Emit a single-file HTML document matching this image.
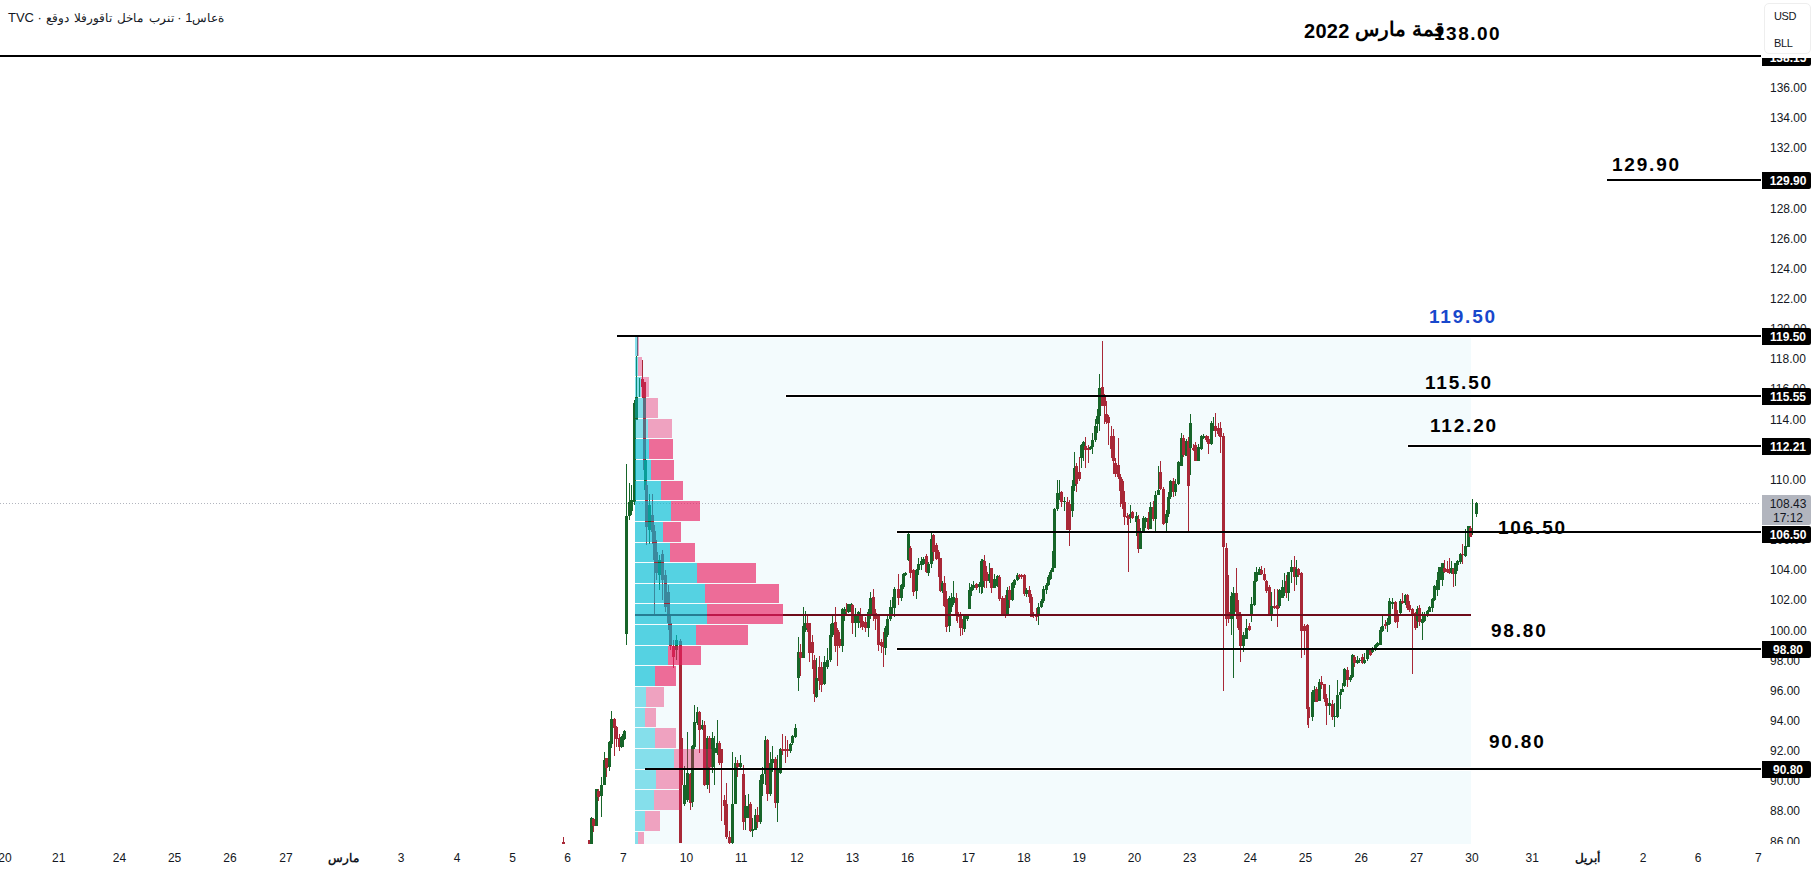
<!DOCTYPE html><html><head><meta charset="utf-8"><style>
html,body{margin:0;padding:0;background:#fff;width:1815px;height:872px;overflow:hidden;position:relative;font-family:"Liberation Sans",sans-serif;}
.t{position:absolute;white-space:nowrap;line-height:1;}
.ax{position:absolute;font-size:12px;color:#131722;white-space:nowrap;line-height:1;}
.pl{position:absolute;left:1762px;width:49px;height:17px;background:#000;border-radius:0 2px 2px 0;color:#fff;font-weight:bold;font-size:12px;line-height:18px;text-align:center;padding-left:3px;box-sizing:border-box;}
.big{position:absolute;font-weight:bold;font-size:19px;letter-spacing:1.8px;white-space:nowrap;line-height:1;color:#000;}
</style></head><body><svg width="1815" height="872" style="position:absolute;left:0;top:0" shape-rendering="crispEdges"><rect x="635" y="337" width="836" height="507" fill="#f3fbfd"/><line x1="0" y1="503.5" x2="1760" y2="503.5" stroke="#b2b5be" stroke-width="1" stroke-dasharray="1 2"/><line x1="-1" y1="55.5" x2="1762" y2="55.5" stroke="#fff" stroke-width="4"/><line x1="1606" y1="180" x2="1762" y2="180" stroke="#fff" stroke-width="4"/><line x1="616" y1="336" x2="1762" y2="336" stroke="#fff" stroke-width="4"/><line x1="785" y1="396" x2="1762" y2="396" stroke="#fff" stroke-width="4"/><line x1="1407" y1="446" x2="1762" y2="446" stroke="#fff" stroke-width="4"/><line x1="896" y1="532" x2="1762" y2="532" stroke="#fff" stroke-width="4"/><line x1="896" y1="649" x2="1762" y2="649" stroke="#fff" stroke-width="4"/><line x1="644" y1="769" x2="1762" y2="769" stroke="#fff" stroke-width="4"/><rect x="563" y="837" width="1" height="7" fill="#a82837"/><rect x="562" y="842" width="3" height="2" fill="#a82837"/><rect x="589" y="840" width="1" height="4" fill="#a82837"/><rect x="588" y="840" width="3" height="4" fill="#a82837"/><rect x="591" y="817" width="1" height="27" fill="#176529"/><rect x="590" y="818" width="3" height="26" fill="#176529"/><rect x="593" y="818" width="1" height="14" fill="#a82837"/><rect x="592" y="819" width="3" height="7" fill="#a82837"/><rect x="596" y="789" width="1" height="37" fill="#176529"/><rect x="595" y="789" width="3" height="37" fill="#176529"/><rect x="598" y="789" width="1" height="12" fill="#a82837"/><rect x="597" y="791" width="3" height="6" fill="#a82837"/><rect x="601" y="777" width="1" height="40" fill="#176529"/><rect x="600" y="785" width="3" height="11" fill="#176529"/><rect x="604" y="752" width="1" height="33" fill="#176529"/><rect x="603" y="760" width="3" height="25" fill="#176529"/><rect x="606" y="758" width="1" height="19" fill="#a82837"/><rect x="605" y="758" width="3" height="10" fill="#a82837"/><rect x="609" y="741" width="1" height="30" fill="#176529"/><rect x="608" y="742" width="3" height="25" fill="#176529"/><rect x="611" y="711" width="1" height="37" fill="#176529"/><rect x="610" y="719" width="3" height="25" fill="#176529"/><rect x="614" y="718" width="1" height="38" fill="#a82837"/><rect x="613" y="719" width="3" height="9" fill="#a82837"/><rect x="616" y="726" width="1" height="21" fill="#a82837"/><rect x="615" y="727" width="3" height="12" fill="#a82837"/><rect x="619" y="734" width="1" height="17" fill="#a82837"/><rect x="618" y="738" width="3" height="9" fill="#a82837"/><rect x="621" y="736" width="1" height="12" fill="#176529"/><rect x="620" y="737" width="3" height="10" fill="#176529"/><rect x="623" y="734" width="1" height="13" fill="#176529"/><rect x="622" y="734" width="3" height="6" fill="#176529"/><rect x="624" y="730" width="1" height="10" fill="#176529"/><rect x="623" y="731" width="3" height="8" fill="#176529"/><rect x="626" y="464" width="1" height="181" fill="#176529"/><rect x="625" y="516" width="3" height="118" fill="#176529"/><rect x="629" y="483" width="1" height="37" fill="#176529"/><rect x="628" y="502" width="3" height="14" fill="#176529"/><rect x="631" y="485" width="1" height="30" fill="#176529"/><rect x="630" y="500" width="3" height="11" fill="#176529"/><rect x="634" y="400" width="1" height="105" fill="#176529"/><rect x="633" y="403" width="3" height="99" fill="#176529"/><rect x="636" y="356" width="1" height="64" fill="#176529"/><rect x="635" y="397" width="3" height="23" fill="#176529"/><rect x="637" y="337" width="1" height="19" fill="#a82837"/><rect x="637" y="337" width="1" height="19" fill="#a82837"/><rect x="639" y="378" width="1" height="19" fill="#176529"/><rect x="639" y="378" width="1" height="19" fill="#176529"/><rect x="642" y="360" width="1" height="38" fill="#a82837"/><rect x="641" y="379" width="3" height="8" fill="#a82837"/><rect x="644" y="382" width="1" height="98" fill="#a82837"/><rect x="643" y="382" width="3" height="88" fill="#a82837"/><rect x="645" y="450" width="1" height="50" fill="#176529"/><rect x="644" y="460" width="3" height="30" fill="#176529"/><rect x="646" y="480" width="1" height="65" fill="#a82837"/><rect x="645" y="485" width="3" height="42" fill="#a82837"/><rect x="649" y="494" width="1" height="50" fill="#176529"/><rect x="648" y="505" width="3" height="25" fill="#176529"/><rect x="652" y="494" width="1" height="50" fill="#a82837"/><rect x="651" y="515" width="3" height="17" fill="#a82837"/><rect x="654" y="525" width="1" height="89" fill="#a82837"/><rect x="653" y="531" width="3" height="29" fill="#a82837"/><rect x="656" y="540" width="1" height="40" fill="#a82837"/><rect x="655" y="552" width="3" height="21" fill="#a82837"/><rect x="659" y="555" width="1" height="35" fill="#176529"/><rect x="658" y="560" width="3" height="15" fill="#176529"/><rect x="662" y="550" width="1" height="50" fill="#a82837"/><rect x="661" y="554" width="3" height="26" fill="#a82837"/><rect x="665" y="570" width="1" height="42" fill="#a82837"/><rect x="664" y="575" width="3" height="32" fill="#a82837"/><rect x="668" y="585" width="1" height="45" fill="#a82837"/><rect x="667" y="592" width="3" height="31" fill="#a82837"/><rect x="670" y="615" width="1" height="35" fill="#a82837"/><rect x="669" y="623" width="3" height="23" fill="#a82837"/><rect x="673" y="640" width="1" height="28" fill="#a82837"/><rect x="672" y="646" width="3" height="11" fill="#a82837"/><rect x="676" y="635" width="1" height="25" fill="#176529"/><rect x="675" y="640" width="3" height="10" fill="#176529"/><rect x="680" y="639" width="1" height="204" fill="#a82837"/><rect x="679" y="641" width="3" height="202" fill="#a82837"/><rect x="681" y="737" width="1" height="98" fill="#a82837"/><rect x="680" y="738" width="3" height="47" fill="#a82837"/><rect x="684" y="766" width="1" height="40" fill="#176529"/><rect x="683" y="785" width="3" height="19" fill="#176529"/><rect x="687" y="732" width="1" height="70" fill="#176529"/><rect x="686" y="773" width="3" height="27" fill="#176529"/><rect x="690" y="773" width="1" height="37" fill="#a82837"/><rect x="689" y="774" width="3" height="29" fill="#a82837"/><rect x="692" y="745" width="1" height="62" fill="#176529"/><rect x="691" y="746" width="3" height="56" fill="#176529"/><rect x="694" y="705" width="1" height="44" fill="#176529"/><rect x="693" y="722" width="3" height="25" fill="#176529"/><rect x="697" y="707" width="1" height="18" fill="#176529"/><rect x="696" y="712" width="3" height="11" fill="#176529"/><rect x="699" y="711" width="1" height="42" fill="#a82837"/><rect x="698" y="712" width="3" height="18" fill="#a82837"/><rect x="702" y="720" width="1" height="10" fill="#176529"/><rect x="701" y="725" width="3" height="4" fill="#176529"/><rect x="704" y="721" width="1" height="65" fill="#a82837"/><rect x="703" y="725" width="3" height="60" fill="#a82837"/><rect x="707" y="736" width="1" height="53" fill="#176529"/><rect x="706" y="738" width="3" height="47" fill="#176529"/><rect x="709" y="736" width="1" height="57" fill="#a82837"/><rect x="708" y="738" width="3" height="29" fill="#a82837"/><rect x="712" y="732" width="1" height="41" fill="#176529"/><rect x="711" y="738" width="3" height="29" fill="#176529"/><rect x="714" y="736" width="1" height="49" fill="#176529"/><rect x="713" y="748" width="3" height="5" fill="#176529"/><rect x="717" y="720" width="1" height="35" fill="#176529"/><rect x="716" y="743" width="3" height="10" fill="#176529"/><rect x="719" y="741" width="1" height="24" fill="#a82837"/><rect x="718" y="743" width="3" height="20" fill="#a82837"/><rect x="721" y="749" width="1" height="72" fill="#a82837"/><rect x="720" y="749" width="3" height="14" fill="#a82837"/><rect x="724" y="795" width="1" height="30" fill="#a82837"/><rect x="723" y="800" width="3" height="6" fill="#a82837"/><rect x="726" y="783" width="1" height="56" fill="#a82837"/><rect x="725" y="804" width="3" height="33" fill="#a82837"/><rect x="729" y="831" width="1" height="13" fill="#a82837"/><rect x="728" y="837" width="3" height="6" fill="#a82837"/><rect x="732" y="752" width="1" height="92" fill="#176529"/><rect x="731" y="804" width="3" height="39" fill="#176529"/><rect x="735" y="757" width="1" height="47" fill="#176529"/><rect x="734" y="763" width="3" height="41" fill="#176529"/><rect x="737" y="760" width="1" height="17" fill="#a82837"/><rect x="736" y="763" width="3" height="4" fill="#a82837"/><rect x="740" y="755" width="1" height="14" fill="#176529"/><rect x="739" y="763" width="3" height="4" fill="#176529"/><rect x="743" y="765" width="1" height="65" fill="#a82837"/><rect x="742" y="774" width="3" height="48" fill="#a82837"/><rect x="745" y="795" width="1" height="35" fill="#176529"/><rect x="744" y="806" width="3" height="12" fill="#176529"/><rect x="748" y="794" width="1" height="24" fill="#176529"/><rect x="747" y="806" width="3" height="12" fill="#176529"/><rect x="750" y="802" width="1" height="30" fill="#a82837"/><rect x="749" y="804" width="3" height="27" fill="#a82837"/><rect x="752" y="818" width="1" height="19" fill="#176529"/><rect x="751" y="829" width="3" height="2" fill="#176529"/><rect x="755" y="809" width="1" height="21" fill="#176529"/><rect x="754" y="815" width="3" height="15" fill="#176529"/><rect x="757" y="807" width="1" height="21" fill="#a82837"/><rect x="756" y="815" width="3" height="7" fill="#a82837"/><rect x="760" y="775" width="1" height="49" fill="#176529"/><rect x="759" y="780" width="3" height="42" fill="#176529"/><rect x="762" y="767" width="1" height="29" fill="#176529"/><rect x="761" y="774" width="3" height="10" fill="#176529"/><rect x="765" y="736" width="1" height="49" fill="#176529"/><rect x="764" y="740" width="3" height="34" fill="#176529"/><rect x="767" y="739" width="1" height="62" fill="#a82837"/><rect x="766" y="740" width="3" height="54" fill="#a82837"/><rect x="770" y="752" width="1" height="44" fill="#176529"/><rect x="769" y="763" width="3" height="31" fill="#176529"/><rect x="772" y="746" width="1" height="26" fill="#176529"/><rect x="771" y="759" width="3" height="4" fill="#176529"/><rect x="775" y="757" width="1" height="51" fill="#a82837"/><rect x="774" y="759" width="3" height="44" fill="#a82837"/><rect x="777" y="755" width="1" height="67" fill="#176529"/><rect x="776" y="770" width="3" height="33" fill="#176529"/><rect x="780" y="748" width="1" height="26" fill="#176529"/><rect x="779" y="749" width="3" height="24" fill="#176529"/><rect x="782" y="734" width="1" height="21" fill="#a82837"/><rect x="781" y="749" width="3" height="2" fill="#a82837"/><rect x="785" y="736" width="1" height="27" fill="#a82837"/><rect x="784" y="749" width="3" height="2" fill="#a82837"/><rect x="787" y="740" width="1" height="17" fill="#a82837"/><rect x="786" y="749" width="3" height="2" fill="#a82837"/><rect x="790" y="743" width="1" height="10" fill="#176529"/><rect x="789" y="744" width="3" height="7" fill="#176529"/><rect x="792" y="735" width="1" height="10" fill="#176529"/><rect x="791" y="736" width="3" height="7" fill="#176529"/><rect x="795" y="724" width="1" height="14" fill="#176529"/><rect x="794" y="728" width="3" height="9" fill="#176529"/><rect x="798" y="637" width="1" height="54" fill="#176529"/><rect x="797" y="652" width="3" height="26" fill="#176529"/><rect x="800" y="644" width="1" height="32" fill="#a82837"/><rect x="799" y="652" width="3" height="6" fill="#a82837"/><rect x="803" y="607" width="1" height="51" fill="#176529"/><rect x="802" y="626" width="3" height="32" fill="#176529"/><rect x="805" y="611" width="1" height="21" fill="#176529"/><rect x="804" y="623" width="3" height="7" fill="#176529"/><rect x="807" y="616" width="1" height="16" fill="#a82837"/><rect x="806" y="623" width="3" height="5" fill="#a82837"/><rect x="809" y="623" width="1" height="39" fill="#a82837"/><rect x="808" y="623" width="3" height="30" fill="#a82837"/><rect x="812" y="635" width="1" height="34" fill="#a82837"/><rect x="811" y="642" width="3" height="11" fill="#a82837"/><rect x="814" y="655" width="1" height="47" fill="#a82837"/><rect x="813" y="660" width="3" height="34" fill="#a82837"/><rect x="816" y="658" width="1" height="40" fill="#176529"/><rect x="815" y="678" width="3" height="19" fill="#176529"/><rect x="819" y="656" width="1" height="34" fill="#a82837"/><rect x="818" y="667" width="3" height="14" fill="#a82837"/><rect x="821" y="662" width="1" height="30" fill="#a82837"/><rect x="820" y="667" width="3" height="18" fill="#a82837"/><rect x="824" y="656" width="1" height="29" fill="#176529"/><rect x="823" y="662" width="3" height="22" fill="#176529"/><rect x="827" y="648" width="1" height="21" fill="#176529"/><rect x="826" y="660" width="3" height="7" fill="#176529"/><rect x="830" y="624" width="1" height="38" fill="#176529"/><rect x="829" y="635" width="3" height="25" fill="#176529"/><rect x="832" y="616" width="1" height="21" fill="#176529"/><rect x="831" y="623" width="3" height="12" fill="#176529"/><rect x="835" y="607" width="1" height="45" fill="#a82837"/><rect x="834" y="622" width="3" height="24" fill="#a82837"/><rect x="837" y="628" width="1" height="38" fill="#a82837"/><rect x="836" y="630" width="3" height="16" fill="#a82837"/><rect x="839" y="632" width="1" height="16" fill="#a82837"/><rect x="838" y="639" width="3" height="7" fill="#a82837"/><rect x="842" y="608" width="1" height="44" fill="#176529"/><rect x="841" y="609" width="3" height="37" fill="#176529"/><rect x="844" y="607" width="1" height="14" fill="#176529"/><rect x="843" y="609" width="3" height="5" fill="#176529"/><rect x="846" y="603" width="1" height="13" fill="#a82837"/><rect x="845" y="611" width="3" height="1" fill="#a82837"/><rect x="848" y="604" width="1" height="9" fill="#176529"/><rect x="847" y="604" width="3" height="8" fill="#176529"/><rect x="851" y="603" width="1" height="11" fill="#176529"/><rect x="850" y="604" width="3" height="8" fill="#176529"/><rect x="852" y="604" width="1" height="30" fill="#a82837"/><rect x="851" y="605" width="3" height="18" fill="#a82837"/><rect x="855" y="608" width="1" height="29" fill="#176529"/><rect x="854" y="616" width="3" height="7" fill="#176529"/><rect x="858" y="611" width="1" height="17" fill="#176529"/><rect x="857" y="612" width="3" height="11" fill="#176529"/><rect x="860" y="608" width="1" height="20" fill="#a82837"/><rect x="859" y="614" width="3" height="7" fill="#a82837"/><rect x="862" y="615" width="1" height="15" fill="#a82837"/><rect x="861" y="621" width="3" height="6" fill="#a82837"/><rect x="865" y="617" width="1" height="15" fill="#a82837"/><rect x="864" y="622" width="3" height="6" fill="#a82837"/><rect x="868" y="609" width="1" height="28" fill="#176529"/><rect x="867" y="612" width="3" height="16" fill="#176529"/><rect x="870" y="592" width="1" height="27" fill="#176529"/><rect x="869" y="598" width="3" height="16" fill="#176529"/><rect x="873" y="589" width="1" height="32" fill="#a82837"/><rect x="872" y="597" width="3" height="19" fill="#a82837"/><rect x="875" y="609" width="1" height="21" fill="#a82837"/><rect x="874" y="613" width="3" height="6" fill="#a82837"/><rect x="878" y="614" width="1" height="37" fill="#a82837"/><rect x="877" y="615" width="3" height="30" fill="#a82837"/><rect x="881" y="639" width="1" height="14" fill="#a82837"/><rect x="880" y="642" width="3" height="4" fill="#a82837"/><rect x="883" y="632" width="1" height="35" fill="#a82837"/><rect x="882" y="645" width="3" height="2" fill="#a82837"/><rect x="885" y="626" width="1" height="29" fill="#176529"/><rect x="884" y="628" width="3" height="20" fill="#176529"/><rect x="887" y="616" width="1" height="21" fill="#176529"/><rect x="886" y="619" width="3" height="16" fill="#176529"/><rect x="890" y="600" width="1" height="21" fill="#176529"/><rect x="889" y="607" width="3" height="12" fill="#176529"/><rect x="892" y="597" width="1" height="17" fill="#176529"/><rect x="891" y="607" width="3" height="1" fill="#176529"/><rect x="894" y="587" width="1" height="30" fill="#176529"/><rect x="893" y="589" width="3" height="19" fill="#176529"/><rect x="898" y="574" width="1" height="31" fill="#a82837"/><rect x="897" y="589" width="3" height="9" fill="#a82837"/><rect x="901" y="584" width="1" height="17" fill="#176529"/><rect x="900" y="585" width="3" height="13" fill="#176529"/><rect x="903" y="573" width="1" height="16" fill="#176529"/><rect x="902" y="574" width="3" height="13" fill="#176529"/><rect x="905" y="572" width="1" height="4" fill="#176529"/><rect x="904" y="573" width="3" height="2" fill="#176529"/><rect x="908" y="533" width="1" height="28" fill="#176529"/><rect x="907" y="534" width="3" height="26" fill="#176529"/><rect x="910" y="546" width="1" height="32" fill="#a82837"/><rect x="909" y="548" width="3" height="25" fill="#a82837"/><rect x="913" y="569" width="1" height="27" fill="#a82837"/><rect x="912" y="570" width="3" height="22" fill="#a82837"/><rect x="916" y="569" width="1" height="30" fill="#176529"/><rect x="915" y="570" width="3" height="21" fill="#176529"/><rect x="918" y="558" width="1" height="17" fill="#176529"/><rect x="917" y="564" width="3" height="6" fill="#176529"/><rect x="921" y="557" width="1" height="13" fill="#176529"/><rect x="920" y="561" width="3" height="4" fill="#176529"/><rect x="923" y="557" width="1" height="8" fill="#176529"/><rect x="922" y="559" width="3" height="5" fill="#176529"/><rect x="926" y="554" width="1" height="19" fill="#a82837"/><rect x="925" y="556" width="3" height="16" fill="#a82837"/><rect x="928" y="562" width="1" height="14" fill="#176529"/><rect x="927" y="564" width="3" height="9" fill="#176529"/><rect x="931" y="533" width="1" height="35" fill="#176529"/><rect x="930" y="539" width="3" height="25" fill="#176529"/><rect x="933" y="534" width="1" height="27" fill="#a82837"/><rect x="932" y="535" width="3" height="17" fill="#a82837"/><rect x="936" y="543" width="1" height="17" fill="#a82837"/><rect x="935" y="545" width="3" height="14" fill="#a82837"/><rect x="938" y="550" width="1" height="27" fill="#a82837"/><rect x="937" y="552" width="3" height="7" fill="#a82837"/><rect x="940" y="558" width="1" height="34" fill="#a82837"/><rect x="939" y="558" width="3" height="33" fill="#a82837"/><rect x="942" y="581" width="1" height="12" fill="#176529"/><rect x="941" y="583" width="3" height="8" fill="#176529"/><rect x="944" y="576" width="1" height="31" fill="#a82837"/><rect x="943" y="583" width="3" height="23" fill="#a82837"/><rect x="946" y="591" width="1" height="41" fill="#a82837"/><rect x="945" y="599" width="3" height="28" fill="#a82837"/><rect x="949" y="596" width="1" height="36" fill="#176529"/><rect x="948" y="598" width="3" height="28" fill="#176529"/><rect x="951" y="593" width="1" height="19" fill="#176529"/><rect x="950" y="601" width="3" height="6" fill="#176529"/><rect x="953" y="581" width="1" height="24" fill="#176529"/><rect x="952" y="597" width="3" height="6" fill="#176529"/><rect x="956" y="593" width="1" height="28" fill="#a82837"/><rect x="955" y="598" width="3" height="18" fill="#a82837"/><rect x="957" y="612" width="1" height="11" fill="#a82837"/><rect x="956" y="612" width="3" height="5" fill="#a82837"/><rect x="960" y="612" width="1" height="24" fill="#a82837"/><rect x="959" y="616" width="3" height="12" fill="#a82837"/><rect x="962" y="619" width="1" height="16" fill="#a82837"/><rect x="961" y="627" width="3" height="1" fill="#a82837"/><rect x="964" y="614" width="1" height="18" fill="#176529"/><rect x="963" y="616" width="3" height="13" fill="#176529"/><rect x="967" y="615" width="1" height="6" fill="#176529"/><rect x="966" y="616" width="3" height="3" fill="#176529"/><rect x="969" y="583" width="1" height="26" fill="#176529"/><rect x="968" y="590" width="3" height="19" fill="#176529"/><rect x="971" y="584" width="1" height="12" fill="#176529"/><rect x="970" y="587" width="3" height="4" fill="#176529"/><rect x="973" y="581" width="1" height="9" fill="#176529"/><rect x="972" y="585" width="3" height="3" fill="#176529"/><rect x="976" y="583" width="1" height="7" fill="#a82837"/><rect x="975" y="584" width="3" height="4" fill="#a82837"/><rect x="979" y="582" width="1" height="11" fill="#176529"/><rect x="978" y="584" width="3" height="3" fill="#176529"/><rect x="981" y="559" width="1" height="35" fill="#176529"/><rect x="980" y="561" width="3" height="25" fill="#176529"/><rect x="982" y="559" width="1" height="34" fill="#176529"/><rect x="981" y="560" width="3" height="27" fill="#176529"/><rect x="984" y="555" width="1" height="33" fill="#a82837"/><rect x="983" y="561" width="3" height="20" fill="#a82837"/><rect x="984" y="556" width="1" height="24" fill="#a82837"/><rect x="983" y="561" width="3" height="12" fill="#a82837"/><rect x="986" y="566" width="1" height="22" fill="#a82837"/><rect x="985" y="573" width="3" height="8" fill="#a82837"/><rect x="986" y="569" width="1" height="19" fill="#a82837"/><rect x="985" y="572" width="3" height="9" fill="#a82837"/><rect x="989" y="563" width="1" height="20" fill="#176529"/><rect x="988" y="574" width="3" height="7" fill="#176529"/><rect x="991" y="568" width="1" height="25" fill="#a82837"/><rect x="990" y="568" width="3" height="20" fill="#a82837"/><rect x="994" y="574" width="1" height="14" fill="#176529"/><rect x="993" y="579" width="3" height="9" fill="#176529"/><rect x="997" y="575" width="1" height="12" fill="#176529"/><rect x="996" y="576" width="3" height="10" fill="#176529"/><rect x="999" y="575" width="1" height="26" fill="#a82837"/><rect x="998" y="577" width="3" height="22" fill="#a82837"/><rect x="1002" y="596" width="1" height="19" fill="#a82837"/><rect x="1001" y="598" width="3" height="17" fill="#a82837"/><rect x="1005" y="595" width="1" height="23" fill="#a82837"/><rect x="1004" y="598" width="3" height="17" fill="#a82837"/><rect x="1007" y="587" width="1" height="28" fill="#176529"/><rect x="1006" y="590" width="3" height="24" fill="#176529"/><rect x="1009" y="586" width="1" height="22" fill="#a82837"/><rect x="1008" y="590" width="3" height="10" fill="#a82837"/><rect x="1012" y="582" width="1" height="19" fill="#176529"/><rect x="1011" y="583" width="3" height="17" fill="#176529"/><rect x="1014" y="579" width="1" height="9" fill="#176529"/><rect x="1013" y="580" width="3" height="5" fill="#176529"/><rect x="1017" y="573" width="1" height="8" fill="#176529"/><rect x="1016" y="575" width="3" height="5" fill="#176529"/><rect x="1019" y="574" width="1" height="5" fill="#a82837"/><rect x="1018" y="575" width="3" height="2" fill="#a82837"/><rect x="1021" y="574" width="1" height="5" fill="#a82837"/><rect x="1020" y="575" width="3" height="2" fill="#a82837"/><rect x="1024" y="574" width="1" height="22" fill="#a82837"/><rect x="1023" y="575" width="3" height="19" fill="#a82837"/><rect x="1026" y="588" width="1" height="9" fill="#176529"/><rect x="1025" y="590" width="3" height="4" fill="#176529"/><rect x="1029" y="586" width="1" height="17" fill="#a82837"/><rect x="1028" y="590" width="3" height="7" fill="#a82837"/><rect x="1031" y="594" width="1" height="23" fill="#a82837"/><rect x="1030" y="597" width="3" height="20" fill="#a82837"/><rect x="1033" y="612" width="1" height="6" fill="#a82837"/><rect x="1032" y="615" width="3" height="1" fill="#a82837"/><rect x="1036" y="608" width="1" height="13" fill="#a82837"/><rect x="1035" y="615" width="3" height="2" fill="#a82837"/><rect x="1038" y="603" width="1" height="22" fill="#176529"/><rect x="1037" y="607" width="3" height="9" fill="#176529"/><rect x="1041" y="599" width="1" height="9" fill="#176529"/><rect x="1040" y="601" width="3" height="6" fill="#176529"/><rect x="1043" y="586" width="1" height="17" fill="#176529"/><rect x="1042" y="589" width="3" height="12" fill="#176529"/><rect x="1046" y="583" width="1" height="11" fill="#176529"/><rect x="1045" y="585" width="3" height="5" fill="#176529"/><rect x="1048" y="575" width="1" height="11" fill="#176529"/><rect x="1047" y="577" width="3" height="8" fill="#176529"/><rect x="1050" y="570" width="1" height="10" fill="#176529"/><rect x="1049" y="572" width="3" height="7" fill="#176529"/><rect x="1052" y="551" width="1" height="21" fill="#176529"/><rect x="1051" y="568" width="3" height="4" fill="#176529"/><rect x="1054" y="508" width="1" height="60" fill="#176529"/><rect x="1053" y="509" width="3" height="59" fill="#176529"/><rect x="1057" y="480" width="1" height="31" fill="#176529"/><rect x="1056" y="493" width="3" height="16" fill="#176529"/><rect x="1059" y="480" width="1" height="20" fill="#176529"/><rect x="1058" y="493" width="3" height="1" fill="#176529"/><rect x="1061" y="491" width="1" height="16" fill="#a82837"/><rect x="1060" y="492" width="3" height="10" fill="#a82837"/><rect x="1064" y="497" width="1" height="14" fill="#176529"/><rect x="1063" y="501" width="3" height="1" fill="#176529"/><rect x="1067" y="497" width="1" height="33" fill="#a82837"/><rect x="1066" y="502" width="3" height="28" fill="#a82837"/><rect x="1069" y="500" width="1" height="46" fill="#a82837"/><rect x="1068" y="504" width="3" height="26" fill="#a82837"/><rect x="1072" y="480" width="1" height="37" fill="#176529"/><rect x="1071" y="486" width="3" height="25" fill="#176529"/><rect x="1074" y="452" width="1" height="39" fill="#176529"/><rect x="1073" y="468" width="3" height="18" fill="#176529"/><rect x="1076" y="463" width="1" height="29" fill="#a82837"/><rect x="1075" y="466" width="3" height="18" fill="#a82837"/><rect x="1079" y="457" width="1" height="24" fill="#a82837"/><rect x="1078" y="472" width="3" height="7" fill="#a82837"/><rect x="1081" y="444" width="1" height="24" fill="#176529"/><rect x="1080" y="445" width="3" height="13" fill="#176529"/><rect x="1083" y="441" width="1" height="20" fill="#176529"/><rect x="1082" y="442" width="3" height="7" fill="#176529"/><rect x="1085" y="437" width="1" height="31" fill="#a82837"/><rect x="1084" y="446" width="3" height="4" fill="#a82837"/><rect x="1088" y="445" width="1" height="18" fill="#a82837"/><rect x="1087" y="448" width="3" height="2" fill="#a82837"/><rect x="1090" y="446" width="1" height="4" fill="#176529"/><rect x="1089" y="447" width="3" height="2" fill="#176529"/><rect x="1092" y="433" width="1" height="21" fill="#176529"/><rect x="1091" y="440" width="3" height="7" fill="#176529"/><rect x="1095" y="419" width="1" height="23" fill="#176529"/><rect x="1094" y="426" width="3" height="14" fill="#176529"/><rect x="1097" y="409" width="1" height="24" fill="#176529"/><rect x="1096" y="416" width="3" height="8" fill="#176529"/><rect x="1099" y="374" width="1" height="57" fill="#176529"/><rect x="1098" y="388" width="3" height="28" fill="#176529"/><rect x="1102" y="341" width="1" height="65" fill="#a82837"/><rect x="1101" y="387" width="3" height="19" fill="#a82837"/><rect x="1104" y="394" width="1" height="30" fill="#a82837"/><rect x="1103" y="397" width="3" height="9" fill="#a82837"/><rect x="1106" y="401" width="1" height="23" fill="#a82837"/><rect x="1105" y="414" width="3" height="8" fill="#a82837"/><rect x="1108" y="415" width="1" height="30" fill="#a82837"/><rect x="1107" y="417" width="3" height="6" fill="#a82837"/><rect x="1111" y="426" width="1" height="32" fill="#a82837"/><rect x="1110" y="436" width="3" height="13" fill="#a82837"/><rect x="1113" y="429" width="1" height="45" fill="#a82837"/><rect x="1112" y="436" width="3" height="25" fill="#a82837"/><rect x="1115" y="458" width="1" height="19" fill="#a82837"/><rect x="1114" y="463" width="3" height="11" fill="#a82837"/><rect x="1118" y="438" width="1" height="41" fill="#a82837"/><rect x="1117" y="465" width="3" height="12" fill="#a82837"/><rect x="1120" y="474" width="1" height="33" fill="#a82837"/><rect x="1119" y="477" width="3" height="14" fill="#a82837"/><rect x="1122" y="479" width="1" height="30" fill="#a82837"/><rect x="1121" y="481" width="3" height="23" fill="#a82837"/><rect x="1124" y="491" width="1" height="34" fill="#a82837"/><rect x="1123" y="502" width="3" height="15" fill="#a82837"/><rect x="1127" y="513" width="1" height="12" fill="#a82837"/><rect x="1126" y="516" width="3" height="2" fill="#a82837"/><rect x="1128" y="515" width="1" height="57" fill="#a82837"/><rect x="1127" y="517" width="3" height="2" fill="#a82837"/><rect x="1130" y="505" width="1" height="18" fill="#176529"/><rect x="1129" y="514" width="3" height="3" fill="#176529"/><rect x="1132" y="511" width="1" height="8" fill="#a82837"/><rect x="1131" y="512" width="3" height="6" fill="#a82837"/><rect x="1136" y="512" width="1" height="24" fill="#176529"/><rect x="1135" y="516" width="3" height="6" fill="#176529"/><rect x="1138" y="515" width="1" height="38" fill="#a82837"/><rect x="1137" y="519" width="3" height="30" fill="#a82837"/><rect x="1140" y="528" width="1" height="21" fill="#176529"/><rect x="1139" y="531" width="3" height="18" fill="#176529"/><rect x="1143" y="516" width="1" height="16" fill="#176529"/><rect x="1142" y="518" width="3" height="14" fill="#176529"/><rect x="1145" y="517" width="1" height="11" fill="#176529"/><rect x="1144" y="518" width="3" height="4" fill="#176529"/><rect x="1148" y="512" width="1" height="18" fill="#a82837"/><rect x="1147" y="518" width="3" height="11" fill="#a82837"/><rect x="1150" y="502" width="1" height="27" fill="#176529"/><rect x="1149" y="507" width="3" height="22" fill="#176529"/><rect x="1153" y="501" width="1" height="20" fill="#a82837"/><rect x="1152" y="507" width="3" height="12" fill="#a82837"/><rect x="1155" y="491" width="1" height="40" fill="#176529"/><rect x="1154" y="495" width="3" height="24" fill="#176529"/><rect x="1158" y="466" width="1" height="29" fill="#176529"/><rect x="1157" y="490" width="3" height="5" fill="#176529"/><rect x="1160" y="461" width="1" height="29" fill="#a82837"/><rect x="1159" y="472" width="3" height="17" fill="#a82837"/><rect x="1163" y="487" width="1" height="38" fill="#a82837"/><rect x="1162" y="489" width="3" height="35" fill="#a82837"/><rect x="1166" y="510" width="1" height="22" fill="#176529"/><rect x="1165" y="514" width="3" height="9" fill="#176529"/><rect x="1168" y="492" width="1" height="25" fill="#176529"/><rect x="1167" y="497" width="3" height="17" fill="#176529"/><rect x="1170" y="480" width="1" height="19" fill="#176529"/><rect x="1169" y="481" width="3" height="16" fill="#176529"/><rect x="1173" y="478" width="1" height="19" fill="#a82837"/><rect x="1172" y="481" width="3" height="11" fill="#a82837"/><rect x="1175" y="479" width="1" height="17" fill="#176529"/><rect x="1174" y="484" width="3" height="8" fill="#176529"/><rect x="1178" y="461" width="1" height="24" fill="#176529"/><rect x="1177" y="462" width="3" height="22" fill="#176529"/><rect x="1181" y="433" width="1" height="33" fill="#176529"/><rect x="1180" y="438" width="3" height="28" fill="#176529"/><rect x="1183" y="435" width="1" height="22" fill="#a82837"/><rect x="1182" y="438" width="3" height="17" fill="#a82837"/><rect x="1186" y="439" width="1" height="17" fill="#176529"/><rect x="1185" y="441" width="3" height="15" fill="#176529"/><rect x="1188" y="437" width="1" height="94" fill="#a82837"/><rect x="1187" y="441" width="3" height="45" fill="#a82837"/><rect x="1190" y="414" width="1" height="61" fill="#176529"/><rect x="1189" y="423" width="3" height="25" fill="#176529"/><rect x="1193" y="444" width="1" height="7" fill="#a82837"/><rect x="1192" y="448" width="3" height="2" fill="#a82837"/><rect x="1195" y="442" width="1" height="19" fill="#a82837"/><rect x="1194" y="445" width="3" height="16" fill="#a82837"/><rect x="1198" y="444" width="1" height="17" fill="#176529"/><rect x="1197" y="447" width="3" height="14" fill="#176529"/><rect x="1201" y="435" width="1" height="15" fill="#176529"/><rect x="1200" y="436" width="3" height="13" fill="#176529"/><rect x="1203" y="434" width="1" height="5" fill="#176529"/><rect x="1202" y="436" width="3" height="2" fill="#176529"/><rect x="1206" y="435" width="1" height="7" fill="#a82837"/><rect x="1205" y="436" width="3" height="4" fill="#a82837"/><rect x="1208" y="436" width="1" height="18" fill="#a82837"/><rect x="1207" y="439" width="3" height="5" fill="#a82837"/><rect x="1211" y="421" width="1" height="24" fill="#176529"/><rect x="1210" y="423" width="3" height="21" fill="#176529"/><rect x="1213" y="417" width="1" height="14" fill="#176529"/><rect x="1212" y="426" width="3" height="2" fill="#176529"/><rect x="1215" y="413" width="1" height="24" fill="#a82837"/><rect x="1214" y="426" width="3" height="5" fill="#a82837"/><rect x="1218" y="423" width="1" height="13" fill="#a82837"/><rect x="1217" y="428" width="3" height="6" fill="#a82837"/><rect x="1220" y="422" width="1" height="31" fill="#a82837"/><rect x="1219" y="428" width="3" height="9" fill="#a82837"/><rect x="1223" y="433" width="1" height="258" fill="#a82837"/><rect x="1222" y="436" width="3" height="111" fill="#a82837"/><rect x="1226" y="543" width="1" height="83" fill="#a82837"/><rect x="1225" y="548" width="3" height="71" fill="#a82837"/><rect x="1228" y="575" width="1" height="48" fill="#a82837"/><rect x="1227" y="612" width="3" height="7" fill="#a82837"/><rect x="1231" y="592" width="1" height="43" fill="#176529"/><rect x="1230" y="596" width="3" height="23" fill="#176529"/><rect x="1233" y="587" width="1" height="91" fill="#176529"/><rect x="1232" y="593" width="3" height="23" fill="#176529"/><rect x="1236" y="568" width="1" height="51" fill="#a82837"/><rect x="1235" y="593" width="3" height="19" fill="#a82837"/><rect x="1238" y="600" width="1" height="30" fill="#a82837"/><rect x="1237" y="612" width="3" height="16" fill="#a82837"/><rect x="1240" y="612" width="1" height="50" fill="#a82837"/><rect x="1239" y="614" width="3" height="32" fill="#a82837"/><rect x="1243" y="632" width="1" height="20" fill="#176529"/><rect x="1242" y="635" width="3" height="11" fill="#176529"/><rect x="1246" y="619" width="1" height="20" fill="#176529"/><rect x="1245" y="628" width="3" height="11" fill="#176529"/><rect x="1249" y="623" width="1" height="8" fill="#a82837"/><rect x="1248" y="626" width="3" height="4" fill="#a82837"/><rect x="1251" y="597" width="1" height="25" fill="#176529"/><rect x="1250" y="604" width="3" height="12" fill="#176529"/><rect x="1254" y="572" width="1" height="34" fill="#176529"/><rect x="1253" y="581" width="3" height="24" fill="#176529"/><rect x="1256" y="567" width="1" height="15" fill="#176529"/><rect x="1255" y="572" width="3" height="9" fill="#176529"/><rect x="1259" y="567" width="1" height="8" fill="#176529"/><rect x="1258" y="569" width="3" height="6" fill="#176529"/><rect x="1261" y="566" width="1" height="9" fill="#a82837"/><rect x="1260" y="570" width="3" height="4" fill="#a82837"/><rect x="1264" y="568" width="1" height="13" fill="#a82837"/><rect x="1263" y="574" width="3" height="6" fill="#a82837"/><rect x="1266" y="580" width="1" height="13" fill="#a82837"/><rect x="1265" y="581" width="3" height="10" fill="#a82837"/><rect x="1269" y="585" width="1" height="31" fill="#a82837"/><rect x="1268" y="587" width="3" height="28" fill="#a82837"/><rect x="1271" y="592" width="1" height="29" fill="#176529"/><rect x="1270" y="606" width="3" height="9" fill="#176529"/><rect x="1274" y="589" width="1" height="20" fill="#a82837"/><rect x="1273" y="606" width="3" height="2" fill="#a82837"/><rect x="1277" y="589" width="1" height="38" fill="#a82837"/><rect x="1276" y="605" width="3" height="4" fill="#a82837"/><rect x="1279" y="589" width="1" height="19" fill="#176529"/><rect x="1278" y="590" width="3" height="16" fill="#176529"/><rect x="1282" y="580" width="1" height="18" fill="#176529"/><rect x="1281" y="587" width="3" height="11" fill="#176529"/><rect x="1284" y="573" width="1" height="23" fill="#176529"/><rect x="1283" y="587" width="3" height="4" fill="#176529"/><rect x="1286" y="575" width="1" height="23" fill="#a82837"/><rect x="1285" y="581" width="3" height="12" fill="#a82837"/><rect x="1288" y="572" width="1" height="29" fill="#176529"/><rect x="1287" y="572" width="3" height="21" fill="#176529"/><rect x="1291" y="560" width="1" height="23" fill="#176529"/><rect x="1290" y="567" width="3" height="5" fill="#176529"/><rect x="1294" y="556" width="1" height="35" fill="#a82837"/><rect x="1293" y="567" width="3" height="10" fill="#a82837"/><rect x="1296" y="560" width="1" height="25" fill="#176529"/><rect x="1295" y="569" width="3" height="8" fill="#176529"/><rect x="1298" y="568" width="1" height="9" fill="#a82837"/><rect x="1297" y="569" width="3" height="6" fill="#a82837"/><rect x="1301" y="572" width="1" height="86" fill="#a82837"/><rect x="1300" y="573" width="3" height="58" fill="#a82837"/><rect x="1304" y="624" width="1" height="31" fill="#a82837"/><rect x="1303" y="626" width="3" height="5" fill="#a82837"/><rect x="1307" y="624" width="1" height="101" fill="#a82837"/><rect x="1306" y="625" width="3" height="84" fill="#a82837"/><rect x="1308" y="707" width="1" height="21" fill="#a82837"/><rect x="1307" y="707" width="3" height="11" fill="#a82837"/><rect x="1312" y="690" width="1" height="31" fill="#176529"/><rect x="1311" y="692" width="3" height="25" fill="#176529"/><rect x="1314" y="686" width="1" height="16" fill="#176529"/><rect x="1313" y="690" width="3" height="2" fill="#176529"/><rect x="1316" y="687" width="1" height="15" fill="#a82837"/><rect x="1315" y="689" width="3" height="13" fill="#a82837"/><rect x="1319" y="679" width="1" height="22" fill="#176529"/><rect x="1318" y="682" width="3" height="19" fill="#176529"/><rect x="1321" y="676" width="1" height="13" fill="#a82837"/><rect x="1320" y="682" width="3" height="3" fill="#a82837"/><rect x="1324" y="684" width="1" height="18" fill="#a82837"/><rect x="1323" y="684" width="3" height="15" fill="#a82837"/><rect x="1326" y="694" width="1" height="31" fill="#a82837"/><rect x="1325" y="698" width="3" height="8" fill="#a82837"/><rect x="1329" y="685" width="1" height="30" fill="#176529"/><rect x="1328" y="703" width="3" height="3" fill="#176529"/><rect x="1332" y="700" width="1" height="20" fill="#a82837"/><rect x="1331" y="704" width="3" height="13" fill="#a82837"/><rect x="1334" y="703" width="1" height="24" fill="#176529"/><rect x="1333" y="716" width="3" height="1" fill="#176529"/><rect x="1337" y="680" width="1" height="38" fill="#176529"/><rect x="1336" y="695" width="3" height="22" fill="#176529"/><rect x="1340" y="689" width="1" height="20" fill="#176529"/><rect x="1339" y="692" width="3" height="3" fill="#176529"/><rect x="1342" y="683" width="1" height="9" fill="#176529"/><rect x="1341" y="689" width="3" height="3" fill="#176529"/><rect x="1344" y="668" width="1" height="19" fill="#176529"/><rect x="1343" y="669" width="3" height="17" fill="#176529"/><rect x="1347" y="667" width="1" height="20" fill="#a82837"/><rect x="1346" y="670" width="3" height="10" fill="#a82837"/><rect x="1350" y="675" width="1" height="7" fill="#176529"/><rect x="1349" y="677" width="3" height="3" fill="#176529"/><rect x="1352" y="654" width="1" height="24" fill="#176529"/><rect x="1351" y="655" width="3" height="22" fill="#176529"/><rect x="1354" y="655" width="1" height="12" fill="#a82837"/><rect x="1353" y="657" width="3" height="6" fill="#a82837"/><rect x="1357" y="656" width="1" height="8" fill="#176529"/><rect x="1356" y="660" width="3" height="3" fill="#176529"/><rect x="1359" y="658" width="1" height="5" fill="#176529"/><rect x="1358" y="660" width="3" height="1" fill="#176529"/><rect x="1362" y="654" width="1" height="10" fill="#a82837"/><rect x="1361" y="657" width="3" height="6" fill="#a82837"/><rect x="1364" y="653" width="1" height="11" fill="#176529"/><rect x="1363" y="660" width="3" height="3" fill="#176529"/><rect x="1367" y="648" width="1" height="13" fill="#176529"/><rect x="1366" y="650" width="3" height="9" fill="#176529"/><rect x="1370" y="648" width="1" height="8" fill="#a82837"/><rect x="1369" y="650" width="3" height="5" fill="#a82837"/><rect x="1372" y="647" width="1" height="6" fill="#176529"/><rect x="1371" y="649" width="3" height="3" fill="#176529"/><rect x="1375" y="644" width="1" height="7" fill="#176529"/><rect x="1374" y="645" width="3" height="5" fill="#176529"/><rect x="1377" y="642" width="1" height="5" fill="#176529"/><rect x="1376" y="643" width="3" height="3" fill="#176529"/><rect x="1380" y="627" width="1" height="18" fill="#176529"/><rect x="1379" y="630" width="3" height="15" fill="#176529"/><rect x="1382" y="616" width="1" height="16" fill="#176529"/><rect x="1381" y="626" width="3" height="5" fill="#176529"/><rect x="1385" y="620" width="1" height="9" fill="#a82837"/><rect x="1384" y="624" width="3" height="2" fill="#a82837"/><rect x="1387" y="618" width="1" height="14" fill="#176529"/><rect x="1386" y="622" width="3" height="3" fill="#176529"/><rect x="1389" y="598" width="1" height="27" fill="#176529"/><rect x="1388" y="601" width="3" height="23" fill="#176529"/><rect x="1392" y="598" width="1" height="11" fill="#176529"/><rect x="1391" y="602" width="3" height="2" fill="#176529"/><rect x="1395" y="601" width="1" height="22" fill="#a82837"/><rect x="1394" y="602" width="3" height="20" fill="#a82837"/><rect x="1397" y="610" width="1" height="18" fill="#a82837"/><rect x="1396" y="614" width="3" height="8" fill="#a82837"/><rect x="1400" y="599" width="1" height="15" fill="#176529"/><rect x="1399" y="601" width="3" height="12" fill="#176529"/><rect x="1402" y="593" width="1" height="11" fill="#a82837"/><rect x="1401" y="601" width="3" height="2" fill="#a82837"/><rect x="1405" y="594" width="1" height="11" fill="#176529"/><rect x="1404" y="595" width="3" height="8" fill="#176529"/><rect x="1407" y="594" width="1" height="16" fill="#a82837"/><rect x="1406" y="595" width="3" height="13" fill="#a82837"/><rect x="1409" y="601" width="1" height="11" fill="#a82837"/><rect x="1408" y="605" width="3" height="5" fill="#a82837"/><rect x="1412" y="608" width="1" height="66" fill="#a82837"/><rect x="1411" y="609" width="3" height="5" fill="#a82837"/><rect x="1415" y="612" width="1" height="18" fill="#a82837"/><rect x="1414" y="613" width="3" height="15" fill="#a82837"/><rect x="1417" y="606" width="1" height="22" fill="#176529"/><rect x="1416" y="609" width="3" height="12" fill="#176529"/><rect x="1419" y="605" width="1" height="21" fill="#a82837"/><rect x="1418" y="608" width="3" height="14" fill="#a82837"/><rect x="1422" y="612" width="1" height="28" fill="#176529"/><rect x="1421" y="619" width="3" height="4" fill="#176529"/><rect x="1424" y="612" width="1" height="10" fill="#176529"/><rect x="1423" y="615" width="3" height="6" fill="#176529"/><rect x="1427" y="610" width="1" height="7" fill="#176529"/><rect x="1426" y="611" width="3" height="5" fill="#176529"/><rect x="1429" y="606" width="1" height="6" fill="#176529"/><rect x="1428" y="607" width="3" height="5" fill="#176529"/><rect x="1432" y="598" width="1" height="14" fill="#176529"/><rect x="1431" y="599" width="3" height="9" fill="#176529"/><rect x="1434" y="585" width="1" height="16" fill="#176529"/><rect x="1433" y="586" width="3" height="14" fill="#176529"/><rect x="1437" y="572" width="1" height="24" fill="#176529"/><rect x="1436" y="580" width="3" height="10" fill="#176529"/><rect x="1439" y="567" width="1" height="23" fill="#176529"/><rect x="1438" y="567" width="3" height="13" fill="#176529"/><rect x="1442" y="563" width="1" height="23" fill="#176529"/><rect x="1441" y="563" width="3" height="17" fill="#176529"/><rect x="1444" y="560" width="1" height="13" fill="#a82837"/><rect x="1443" y="568" width="3" height="4" fill="#a82837"/><rect x="1447" y="561" width="1" height="12" fill="#a82837"/><rect x="1446" y="569" width="3" height="3" fill="#a82837"/><rect x="1449" y="558" width="1" height="16" fill="#a82837"/><rect x="1448" y="570" width="3" height="3" fill="#a82837"/><rect x="1451" y="561" width="1" height="13" fill="#176529"/><rect x="1450" y="568" width="3" height="5" fill="#176529"/><rect x="1453" y="568" width="1" height="19" fill="#a82837"/><rect x="1452" y="569" width="3" height="5" fill="#a82837"/><rect x="1455" y="563" width="1" height="23" fill="#176529"/><rect x="1454" y="563" width="3" height="11" fill="#176529"/><rect x="1457" y="560" width="1" height="11" fill="#176529"/><rect x="1456" y="561" width="3" height="4" fill="#176529"/><rect x="1460" y="553" width="1" height="11" fill="#176529"/><rect x="1459" y="554" width="3" height="8" fill="#176529"/><rect x="1462" y="544" width="1" height="20" fill="#a82837"/><rect x="1461" y="554" width="3" height="1" fill="#a82837"/><rect x="1465" y="529" width="1" height="28" fill="#176529"/><rect x="1464" y="546" width="3" height="10" fill="#176529"/><rect x="1468" y="526" width="1" height="21" fill="#176529"/><rect x="1467" y="526" width="3" height="21" fill="#176529"/><rect x="1470" y="526" width="1" height="11" fill="#a82837"/><rect x="1469" y="528" width="3" height="9" fill="#a82837"/><rect x="1472" y="499" width="1" height="36" fill="#176529"/><rect x="1472" y="499" width="1" height="36" fill="#176529"/><rect x="1476" y="502" width="1" height="15" fill="#176529"/><rect x="1475" y="503" width="3" height="11" fill="#176529"/><line x1="635" y1="615" x2="1471" y2="615" stroke="#6e0b1b" stroke-width="2"/><rect x="635" y="336.00" width="2.50" height="19.65" fill="rgba(0,188,212,0.45)"/><rect x="637.50" y="336.00" width="1.00" height="19.65" fill="rgba(233,30,99,0.40)"/><rect x="635" y="356.65" width="3.00" height="19.65" fill="rgba(0,188,212,0.45)"/><rect x="638.00" y="356.65" width="4.00" height="19.65" fill="rgba(233,30,99,0.40)"/><rect x="635" y="377.30" width="6.00" height="19.65" fill="rgba(0,188,212,0.45)"/><rect x="641.00" y="377.30" width="8.00" height="19.65" fill="rgba(233,30,99,0.40)"/><rect x="635" y="397.95" width="10.50" height="19.65" fill="rgba(0,188,212,0.45)"/><rect x="645.50" y="397.95" width="12.20" height="19.65" fill="rgba(233,30,99,0.40)"/><rect x="635" y="418.60" width="12.80" height="19.65" fill="rgba(0,188,212,0.45)"/><rect x="647.80" y="418.60" width="24.10" height="19.65" fill="rgba(233,30,99,0.40)"/><rect x="635" y="439.25" width="14.00" height="19.65" fill="rgba(0,188,212,0.65)"/><rect x="649.00" y="439.25" width="23.60" height="19.65" fill="rgba(233,30,99,0.65)"/><rect x="635" y="459.90" width="15.80" height="19.65" fill="rgba(0,188,212,0.65)"/><rect x="650.80" y="459.90" width="22.90" height="19.65" fill="rgba(233,30,99,0.65)"/><rect x="635" y="480.55" width="25.90" height="19.65" fill="rgba(0,188,212,0.65)"/><rect x="660.90" y="480.55" width="21.80" height="19.65" fill="rgba(233,30,99,0.65)"/><rect x="635" y="501.20" width="35.70" height="19.65" fill="rgba(0,188,212,0.65)"/><rect x="670.70" y="501.20" width="29.20" height="19.65" fill="rgba(233,30,99,0.65)"/><rect x="635" y="521.85" width="27.70" height="19.65" fill="rgba(0,188,212,0.65)"/><rect x="662.70" y="521.85" width="17.90" height="19.65" fill="rgba(233,30,99,0.65)"/><rect x="635" y="542.50" width="34.80" height="19.65" fill="rgba(0,188,212,0.65)"/><rect x="669.80" y="542.50" width="25.00" height="19.65" fill="rgba(233,30,99,0.65)"/><rect x="635" y="563.15" width="61.90" height="19.65" fill="rgba(0,188,212,0.65)"/><rect x="696.90" y="563.15" width="58.70" height="19.65" fill="rgba(233,30,99,0.65)"/><rect x="635" y="583.80" width="69.70" height="19.65" fill="rgba(0,188,212,0.65)"/><rect x="704.70" y="583.80" width="73.80" height="19.65" fill="rgba(233,30,99,0.65)"/><rect x="635" y="604.45" width="72.00" height="19.65" fill="rgba(0,188,212,0.65)"/><rect x="707.00" y="604.45" width="75.70" height="19.65" fill="rgba(233,30,99,0.65)"/><rect x="635" y="625.10" width="61.00" height="19.65" fill="rgba(0,188,212,0.65)"/><rect x="696.00" y="625.10" width="51.80" height="19.65" fill="rgba(233,30,99,0.65)"/><rect x="635" y="645.75" width="32.80" height="19.65" fill="rgba(0,188,212,0.65)"/><rect x="667.80" y="645.75" width="32.70" height="19.65" fill="rgba(233,30,99,0.65)"/><rect x="635" y="666.40" width="19.70" height="19.65" fill="rgba(0,188,212,0.65)"/><rect x="654.70" y="666.40" width="21.10" height="19.65" fill="rgba(233,30,99,0.65)"/><rect x="635" y="687.05" width="10.70" height="19.65" fill="rgba(0,188,212,0.45)"/><rect x="645.70" y="687.05" width="18.10" height="19.65" fill="rgba(233,30,99,0.40)"/><rect x="635" y="707.70" width="9.60" height="19.65" fill="rgba(0,188,212,0.45)"/><rect x="644.60" y="707.70" width="11.30" height="19.65" fill="rgba(233,30,99,0.40)"/><rect x="635" y="728.35" width="19.80" height="19.65" fill="rgba(0,188,212,0.45)"/><rect x="654.80" y="728.35" width="20.90" height="19.65" fill="rgba(233,30,99,0.40)"/><rect x="635" y="749.00" width="39.00" height="19.65" fill="rgba(0,188,212,0.45)"/><rect x="674.00" y="749.00" width="37.80" height="19.65" fill="rgba(233,30,99,0.40)"/><rect x="635" y="769.65" width="20.90" height="19.65" fill="rgba(0,188,212,0.45)"/><rect x="655.90" y="769.65" width="25.10" height="19.65" fill="rgba(233,30,99,0.40)"/><rect x="635" y="790.30" width="18.90" height="19.65" fill="rgba(0,188,212,0.45)"/><rect x="653.90" y="790.30" width="27.10" height="19.65" fill="rgba(233,30,99,0.40)"/><rect x="635" y="810.95" width="9.80" height="19.65" fill="rgba(0,188,212,0.45)"/><rect x="644.80" y="810.95" width="15.20" height="19.65" fill="rgba(233,30,99,0.40)"/><rect x="635" y="831.60" width="2.80" height="12.40" fill="rgba(0,188,212,0.45)"/><rect x="637.80" y="831.60" width="6.20" height="12.40" fill="rgba(233,30,99,0.40)"/><line x1="0" y1="55.5" x2="1761" y2="55.5" stroke="#000" stroke-width="2"/><line x1="1607" y1="180" x2="1761" y2="180" stroke="#000" stroke-width="2"/><line x1="617" y1="336" x2="1761" y2="336" stroke="#000" stroke-width="2"/><line x1="786" y1="396" x2="1761" y2="396" stroke="#000" stroke-width="2"/><line x1="1408" y1="446" x2="1761" y2="446" stroke="#000" stroke-width="2"/><line x1="897" y1="532" x2="1761" y2="532" stroke="#000" stroke-width="2"/><line x1="897" y1="649" x2="1761" y2="649" stroke="#000" stroke-width="2"/><line x1="645" y1="769" x2="1761" y2="769" stroke="#000" stroke-width="2"/></svg><div class="t" style="left:8px;top:11px;font-size:13px;color:#131722;">TVC · <span style="unicode-bidi:bidi-override;direction:ltr;font-size:12px;word-spacing:2px">عقود الفروقات لخام برنت</span> · 1<span style="unicode-bidi:bidi-override;direction:ltr;font-size:12px;word-spacing:2px">ساعة</span></div><div style="position:absolute;left:0;top:0;width:1815px;height:844px;overflow:hidden"><div class="ax" style="left:1770px;top:82.0px">136.00</div><div class="ax" style="left:1770px;top:112.1px">134.00</div><div class="ax" style="left:1770px;top:142.3px">132.00</div><div class="ax" style="left:1770px;top:202.6px">128.00</div><div class="ax" style="left:1770px;top:232.7px">126.00</div><div class="ax" style="left:1770px;top:262.8px">124.00</div><div class="ax" style="left:1770px;top:293.0px">122.00</div><div class="ax" style="left:1770px;top:323.1px">120.00</div><div class="ax" style="left:1770px;top:353.3px">118.00</div><div class="ax" style="left:1770px;top:383.4px">116.00</div><div class="ax" style="left:1770px;top:413.5px">114.00</div><div class="ax" style="left:1770px;top:473.8px">110.00</div><div class="ax" style="left:1770px;top:534.1px">106.00</div><div class="ax" style="left:1770px;top:564.2px">104.00</div><div class="ax" style="left:1770px;top:594.4px">102.00</div><div class="ax" style="left:1770px;top:624.5px">100.00</div><div class="ax" style="left:1770px;top:654.7px">98.00</div><div class="ax" style="left:1770px;top:684.8px">96.00</div><div class="ax" style="left:1770px;top:714.9px">94.00</div><div class="ax" style="left:1770px;top:745.1px">92.00</div><div class="ax" style="left:1770px;top:775.2px">90.00</div><div class="ax" style="left:1770px;top:805.4px">88.00</div><div class="ax" style="left:1770px;top:835.5px">86.00</div></div><div class="pl" style="top:49.0px">138.15</div><div class="pl" style="top:172.0px">129.90</div><div class="pl" style="top:328.0px">119.50</div><div class="pl" style="top:388.0px">115.55</div><div class="pl" style="top:438.0px">112.21</div><div class="pl" style="top:526.0px">106.50</div><div class="pl" style="top:641.0px">98.80</div><div class="pl" style="top:761.0px">90.80</div><div style="position:absolute;left:1762px;top:495px;width:49px;height:30px;background:#b2b5be;border-radius:0 2px 2px 0;color:#131722;font-size:12px;line-height:14px;text-align:center;padding-top:2px;padding-left:3px;box-sizing:border-box">108.43<br>17:12</div><div style="position:absolute;left:1762px;top:0;width:53px;height:58px;background:#fff"></div><div style="position:absolute;left:1764px;top:3px;width:47px;height:51px;border:1px solid #eeeeee;border-radius:5px;box-sizing:border-box;background:#fff;font-size:11px;color:#131722;line-height:1"><div style="position:absolute;left:9px;top:7px;letter-spacing:-0.4px">USD</div><div style="position:absolute;left:9px;top:34px;letter-spacing:-0.4px">BLL</div></div><div class="ax" style="left:-25.0px;width:60px;text-align:center;top:852px;">20</div><div class="ax" style="left:28.7px;width:60px;text-align:center;top:852px;">21</div><div class="ax" style="left:89.5px;width:60px;text-align:center;top:852px;">24</div><div class="ax" style="left:144.6px;width:60px;text-align:center;top:852px;">25</div><div class="ax" style="left:200.0px;width:60px;text-align:center;top:852px;">26</div><div class="ax" style="left:256.0px;width:60px;text-align:center;top:852px;">27</div><div class="ax" style="left:313.0px;width:60px;text-align:center;top:852px;font-weight:bold;">مارس</div><div class="ax" style="left:371.0px;width:60px;text-align:center;top:852px;">3</div><div class="ax" style="left:427.0px;width:60px;text-align:center;top:852px;">4</div><div class="ax" style="left:482.5px;width:60px;text-align:center;top:852px;">5</div><div class="ax" style="left:537.6px;width:60px;text-align:center;top:852px;">6</div><div class="ax" style="left:593.4px;width:60px;text-align:center;top:852px;">7</div><div class="ax" style="left:656.4px;width:60px;text-align:center;top:852px;">10</div><div class="ax" style="left:711.3px;width:60px;text-align:center;top:852px;">11</div><div class="ax" style="left:767.0px;width:60px;text-align:center;top:852px;">12</div><div class="ax" style="left:822.4px;width:60px;text-align:center;top:852px;">13</div><div class="ax" style="left:877.6px;width:60px;text-align:center;top:852px;">16</div><div class="ax" style="left:938.4px;width:60px;text-align:center;top:852px;">17</div><div class="ax" style="left:994.0px;width:60px;text-align:center;top:852px;">18</div><div class="ax" style="left:1049.2px;width:60px;text-align:center;top:852px;">19</div><div class="ax" style="left:1104.4px;width:60px;text-align:center;top:852px;">20</div><div class="ax" style="left:1159.7px;width:60px;text-align:center;top:852px;">23</div><div class="ax" style="left:1220.3px;width:60px;text-align:center;top:852px;">24</div><div class="ax" style="left:1275.5px;width:60px;text-align:center;top:852px;">25</div><div class="ax" style="left:1331.2px;width:60px;text-align:center;top:852px;">26</div><div class="ax" style="left:1386.6px;width:60px;text-align:center;top:852px;">27</div><div class="ax" style="left:1442.0px;width:60px;text-align:center;top:852px;">30</div><div class="ax" style="left:1502.2px;width:60px;text-align:center;top:852px;">31</div><div class="ax" style="left:1557.7px;width:60px;text-align:center;top:852px;font-weight:bold;">أبريل</div><div class="ax" style="left:1613.0px;width:60px;text-align:center;top:852px;">2</div><div class="ax" style="left:1668.2px;width:60px;text-align:center;top:852px;">6</div><div class="ax" style="left:1728.4px;width:60px;text-align:center;top:852px;">7</div><div class="big" style="left:1304px;top:21px;font-size:20px;letter-spacing:0.3px">2022</div><div class="big" style="left:1355px;top:19px;font-size:20px;letter-spacing:0;direction:rtl">قمة مارس</div><div class="big" style="left:1434px;top:24px;font-size:19px;letter-spacing:1.5px">138.00</div><div class="big" style="left:1612px;top:155px;color:#000">129.90</div><div class="big" style="left:1429px;top:307px;color:#1848cc">119.50</div><div class="big" style="left:1425px;top:373px;color:#000">115.50</div><div class="big" style="left:1430px;top:416px;color:#000">112.20</div><div class="big" style="left:1498px;top:518px;color:#000">106.50</div><div class="big" style="left:1491px;top:621px;color:#000">98.80</div><div class="big" style="left:1489px;top:732px;color:#000">90.80</div></body></html>
